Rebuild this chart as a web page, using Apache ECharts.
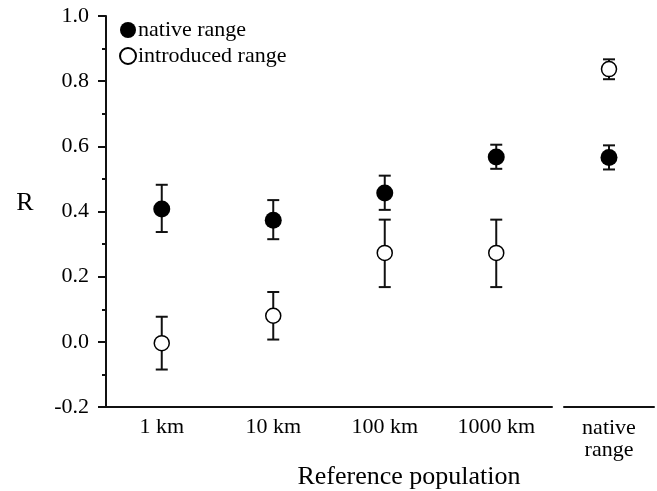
<!DOCTYPE html>
<html>
<head>
<meta charset="utf-8">
<script src="https://cdn.jsdelivr.net/npm/echarts@6/dist/echarts.min.js"></script>
<style>html,body{margin:0;padding:0;background:#fff}#c{width:657px;height:491px}</style>
</head>
<body>
<div id="c"></div>
<script>
// Data
const categories = ['1 km', '10 km', '100 km', '1000 km'];
const rightCategories = ['native\nrange'];
const nativeMean = [0.408, 0.373, 0.457, 0.567];
const nativeLow = [0.337, 0.315, 0.405, 0.531];
const nativeHigh = [0.482, 0.435, 0.510, 0.605];
const introMean = [-0.004, 0.080, 0.273, 0.273];
const introLow = [-0.085, 0.007, 0.168, 0.168];
const introHigh = [0.077, 0.153, 0.375, 0.375];
const nativeRangeNative = [0.566];
const nativeRangeNativeLow = [0.529];
const nativeRangeNativeHigh = [0.603];
const nativeRangeIntro = [0.837];
const nativeRangeIntroLow = [0.806];
const nativeRangeIntroHigh = [0.867];
const yTicks = [-0.2, 0.0, 0.2, 0.4, 0.6, 0.8, 1.0];

const FONT = '"Liberation Serif", "Times New Roman", serif';
const chart = echarts.init(document.getElementById('c'));

function errData(low, high) {
  return low.map((l, i) => [i, l, high[i]]);
}
function errRender(params, api) {
  const x = api.value(0);
  const top = api.coord([x, api.value(2)]);
  const bot = api.coord([x, api.value(1)]);
  const hw = 6;
  const st = {stroke: '#111', lineWidth: 2};
  return {
    type: 'group',
    children: [
      {type: 'line', shape: {x1: top[0], y1: top[1], x2: bot[0], y2: bot[1]}, style: st},
      {type: 'line', shape: {x1: top[0] - hw, y1: top[1], x2: top[0] + hw, y2: top[1]}, style: st},
      {type: 'line', shape: {x1: bot[0] - hw, y1: bot[1], x2: bot[0] + hw, y2: bot[1]}, style: st}
    ]
  };
}

const yMin = yTicks[0], yMax = yTicks[yTicks.length - 1];
const axisLineStyle = {color: '#111', width: 2};

const nativeStyle = {color: '#000', opacity: 1};
const introStyle = {color: '#fff', borderColor: '#000', borderWidth: 1.5, opacity: 1};

chart.setOption({
  animation: false,
  backgroundColor: '#fff',
  legend: {
    orient: 'vertical',
    left: 114, top: 14,
    itemWidth: 16, itemHeight: 16, itemGap: 4,
    icon: 'circle',
    textStyle: {fontFamily: FONT, fontSize: 22, color: '#000', padding: [0, 0, 0, -3]},
    data: ['native range', 'introduced range']
  },
  grid: [
    {left: 106, top: 16, width: 446, bottom: 84},
    {left: 564, top: 16, width: 90, bottom: 84}
  ],
  xAxis: [
    {
      type: 'category', gridIndex: 0, data: categories,
      axisLine: {onZero: false, lineStyle: axisLineStyle},
      axisTick: {alignWithLabel: true, length: 5, lineStyle: {color: '#111', width: 1.5}},
      axisLabel: {fontFamily: FONT, fontSize: 22, color: '#000', margin: 9}
    },
    {
      type: 'category', gridIndex: 1, data: rightCategories,
      axisLine: {onZero: false, lineStyle: axisLineStyle},
      axisTick: {alignWithLabel: true, length: 5, lineStyle: {color: '#111', width: 1.5}},
      axisLabel: {fontFamily: FONT, fontSize: 22, color: '#000', margin: 10, lineHeight: 22}
    }
  ],
  yAxis: [
    {
      type: 'value', gridIndex: 0, min: yMin, max: yMax, interval: 0.2,
      axisLine: {show: true, lineStyle: axisLineStyle},
      axisTick: {show: true, length: 8, lineStyle: {color: '#111', width: 2}},
      minorTick: {show: true, splitNumber: 2, length: 4, lineStyle: {color: '#111', width: 2}},
      splitLine: {show: false},
      axisLabel: {fontFamily: FONT, fontSize: 22, color: '#000', margin: 17,
        formatter: v => (Math.abs(v) < 1e-9 ? 0 : v).toFixed(1)}
    },
    {
      type: 'value', gridIndex: 1, min: yMin, max: yMax, interval: 0.2,
      show: false
    }
  ],
  graphic: [
    {type: 'text', x: 25, y: 203, style: {text: 'R', font: '26px ' + FONT, fill: '#000', align: 'center', verticalAlign: 'middle'}},
    {type: 'text', x: 409, y: 477, style: {text: 'Reference population', font: '26px ' + FONT, fill: '#000', align: 'center', verticalAlign: 'middle'}}
  ],
  series: [
    {type: 'custom', xAxisIndex: 0, yAxisIndex: 0, renderItem: errRender, data: errData(nativeLow, nativeHigh), z: 1, silent: true},
    {type: 'custom', xAxisIndex: 0, yAxisIndex: 0, renderItem: errRender, data: errData(introLow, introHigh), z: 1, silent: true},
    {type: 'custom', xAxisIndex: 1, yAxisIndex: 1, renderItem: errRender, data: errData(nativeRangeNativeLow, nativeRangeNativeHigh), z: 1, silent: true},
    {type: 'custom', xAxisIndex: 1, yAxisIndex: 1, renderItem: errRender, data: errData(nativeRangeIntroLow, nativeRangeIntroHigh), z: 1, silent: true},
    {name: 'native range', type: 'scatter', xAxisIndex: 0, yAxisIndex: 0, data: nativeMean, symbol: 'circle', symbolSize: 17, itemStyle: nativeStyle, z: 5},
    {name: 'introduced range', type: 'scatter', xAxisIndex: 0, yAxisIndex: 0, data: introMean, symbol: 'circle', symbolSize: 15, itemStyle: introStyle, z: 5},
    {name: 'native range', type: 'scatter', xAxisIndex: 1, yAxisIndex: 1, data: nativeRangeNative, symbol: 'circle', symbolSize: 17, itemStyle: nativeStyle, z: 5},
    {name: 'introduced range', type: 'scatter', xAxisIndex: 1, yAxisIndex: 1, data: nativeRangeIntro, symbol: 'circle', symbolSize: 15, itemStyle: introStyle, z: 5}
  ]
});
</script>
</body>
</html>
